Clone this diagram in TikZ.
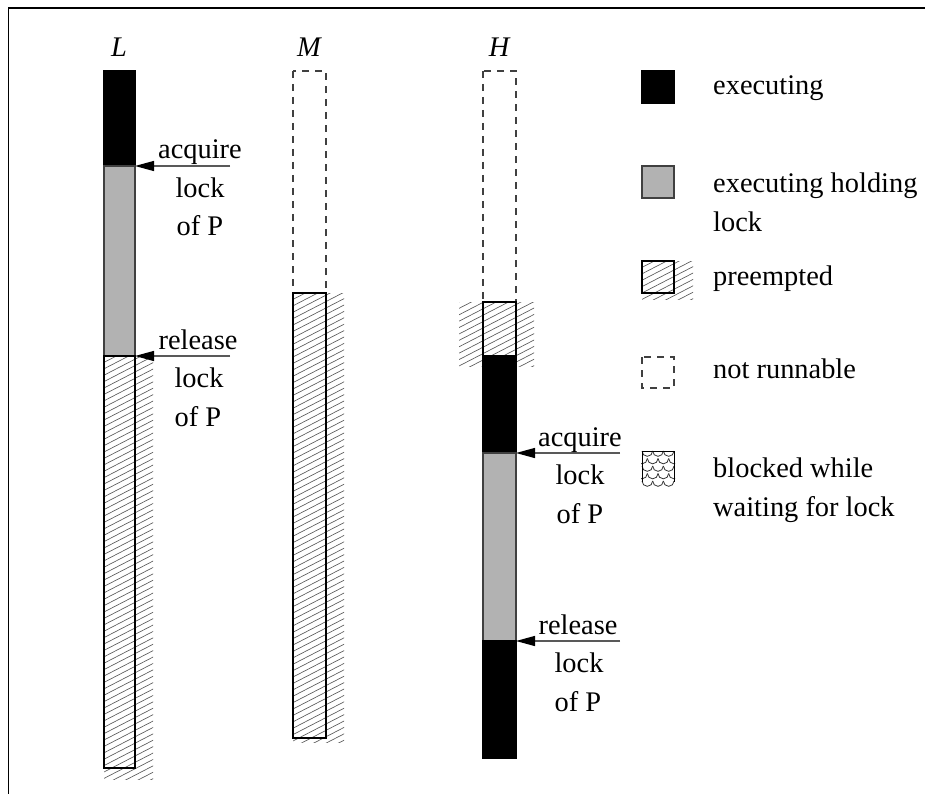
\documentclass[tikz,border=0pt]{standalone}
\usepackage{fontspec}
\setmainfont{Liberation Serif}
\usetikzlibrary{arrows.meta}
\tikzset{
  execbox/.style={fill=black, draw=black, line width=1.3pt},
  lockbox/.style={fill=black!30, draw=black!75, line width=1.3pt},
  outlinebox/.style={draw=black, line width=1.3pt},
  notrun/.style={draw=black!75, line width=1.3pt, dash pattern=on 7pt off 6pt},
  hatchline/.style={draw=black!65, line width=0.65pt},
  scallop/.style={draw=black!80, line width=0.8pt},
  lockarrow/.style={draw=black!65, line width=1.3pt, -{Triangle[length=19pt,width=10pt,color=black]}},
  txt/.style={font=\fontsize{28.4}{38}\selectfont, inner sep=0pt, anchor=base},
  legtxt/.style={font=\fontsize{28.4}{38}\selectfont, inner sep=0pt, anchor=base west},
  hdr/.style={font=\fontsize{28.4}{30}\selectfont\itshape, inner sep=0pt, anchor=base},
}
\newcommand\hatcharea[4]{%
  \begin{scope}
    \clip (#1,#2) rectangle (#3,#4);
    \pgfmathtruncatemacro\nlines{((#4)-(#2)+((#3)-(#1))/2)/6.4+1}
    \foreach \k in {0,...,\nlines} \draw[hatchline] (#1,#2+\k*6.4) -- ++(120,-62);
  \end{scope}}
\begin{document}
\begin{tikzpicture}[x=1pt,y=-1pt]
\useasboundingbox (0,0) rectangle (925,794);
% frame
\draw[line width=1.5pt] (8.5,794) -- (8.5,8) -- (925,8);

% headers
\node[hdr] (hL) at (119,57) {L};
\node[hdr] (hM) at (309,57) {M};
\node[hdr] (hH) at (499,57) {H};

% ---- L ----
\draw[execbox] (104,71) rectangle (135,166);
\draw[lockbox] (104,166) rectangle (135,356);
\hatcharea{104}{356}{153}{779}
\draw[outlinebox] (104,356) rectangle (135,768);

% ---- M ----
\draw[notrun] (293,71) rectangle (326,293);
\hatcharea{293}{293}{344}{742}
\draw[outlinebox] (293,293) rectangle (326,738);

% ---- H ----
\draw[notrun] (483,71) rectangle (516,302);
\hatcharea{459}{302}{534}{366}
\draw[outlinebox] (483,302) rectangle (516,356);
\draw[execbox] (483,356) rectangle (516,453);
\draw[lockbox] (483,453) rectangle (516,641);
\draw[execbox] (483,641) rectangle (516,758);

% ---- arrows and labels L ----
\coordinate (LacqTip) at (135,166);
\coordinate (LacqTail) at (230,166);
\draw[lockarrow] (LacqTail) -- (LacqTip);
\node[txt] (LacqA) at (200,159) {acquire};
\node[txt] (LacqB) at (200,197.5) {lock};
\node[txt] (LacqC) at (200,236) {of P};

\coordinate (LrelTip) at (135,356);
\coordinate (LrelTail) at (230,356);
\draw[lockarrow] (LrelTail) -- (LrelTip);
\node[txt] (LrelA) at (198,349) {release};
\node[txt] (LrelB) at (199,387.5) {lock};
\node[txt] (LrelC) at (198,426) {of P};

% ---- arrows and labels H ----
\coordinate (HacqTip) at (516,453);
\coordinate (HacqTail) at (620,453);
\draw[lockarrow] (HacqTail) -- (HacqTip);
\node[txt] (HacqA) at (580,446) {acquire};
\node[txt] (HacqB) at (580,484.5) {lock};
\node[txt] (HacqC) at (580,523) {of P};

\coordinate (HrelTip) at (516,641);
\coordinate (HrelTail) at (620,641);
\draw[lockarrow] (HrelTail) -- (HrelTip);
\node[txt] (HrelA) at (578,634) {release};
\node[txt] (HrelB) at (579,672.5) {lock};
\node[txt] (HrelC) at (578,711) {of P};

% ---- legend ----
\draw[execbox] (642,71) rectangle (674,103);
\node[legtxt] (lg1) at (713,95) {executing};

\draw[lockbox] (642,166) rectangle (674,198);
\node[legtxt] (lg2a) at (713,193) {executing holding};
\node[legtxt] (lg2b) at (713,231) {lock};

\hatcharea{642}{261}{693}{299}
\draw[outlinebox] (642,261) rectangle (674,293);
\node[legtxt] (lg3) at (713,285) {preempted};

\draw[notrun] (642,357) rectangle (674,388);
\node[legtxt] (lg4) at (713,378) {not runnable};

\begin{scope}
  \clip (641,450) rectangle (675,489);
  \foreach \r in {0,2,4} {
    \foreach \c in {0,1,2}
      \draw[scallop] (642+\c*10.67,451+\r*7.5) arc[start angle=180,end angle=360,radius=5.33pt];
  }
  \foreach \r in {1,3} {
    \foreach \c in {0,1,2,3}
      \draw[scallop] (642-5.33+\c*10.67,451+\r*7.5) arc[start angle=180,end angle=360,radius=5.33pt];
  }
\end{scope}
\draw[line width=1pt] (642,482) -- (642,451) -- (674,451) -- (674,482);
\node[legtxt] (lg5a) at (713,477) {blocked while};
\node[legtxt] (lg5b) at (713,516) {waiting for lock};
\end{tikzpicture}
\end{document}
